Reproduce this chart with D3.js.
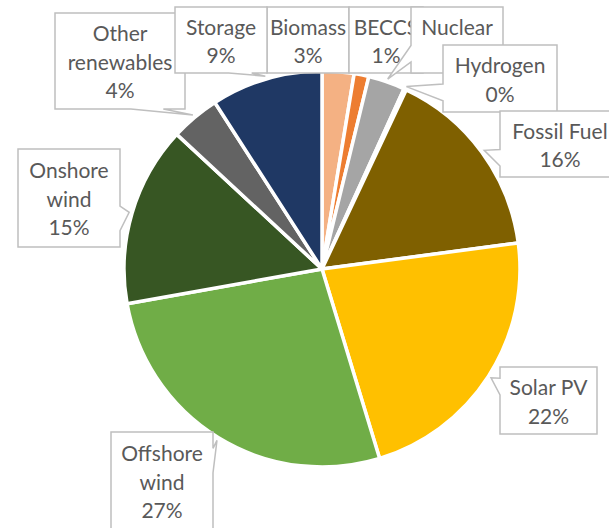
<!DOCTYPE html>
<html><head><meta charset="utf-8">
<script src="https://cdn.jsdelivr.net/npm/d3@7"></script>
<style>html,body{margin:0;padding:0;background:#fff;} svg{display:block}</style>
</head><body>
<svg id="chart" width="609" height="528"></svg>
<script>
// ---- data ----
const categories = ["Biomass","BECCS","Nuclear","Hydrogen","Fossil Fuel","Solar PV","Offshore wind","Onshore wind","Other renewables","Storage"];
const shares = [2.6, 1.2, 3.0, 0.2, 15.9, 22.4, 26.9, 14.7, 4.0, 9.1];
const sliceColors = ["#F4B183","#ED7D31","#A5A5A5","#BDD7EE","#7F6000","#FFC000","#70AD47","#375623","#636363","#1F3864"];
const noWrap = ["Fossil Fuel","Solar PV"];

// ---- label box layout (manually placed in the original) ----
const labelBoxes = {
  "Biomass":          {x:267, y:7,   w:82,  h:66},
  "BECCS":            {x:349, y:7,   w:74,  h:66},
  "Nuclear":          {x:411, y:7,   w:92,  h:66},
  "Hydrogen":         {x:443, y:45,  w:114, h:67},
  "Fossil Fuel":      {x:500, y:111, w:120, h:66},
  "Solar PV":         {x:500, y:367, w:97,  h:67},
  "Offshore wind":    {x:111, y:432, w:102, h:98},
  "Onshore wind":     {x:18,  y:149, w:102, h:98},
  "Other renewables": {x:55,  y:13,  w:130, h:96},
  "Storage":          {x:175, y:7,   w:92,  h:66}
};

const W = 609, H = 528;
const cx = 322, cy = 269, R = 198;
const lineH = 28.5;

const svg = d3.select("#chart");
svg.append("rect").attr("width", W).attr("height", H).attr("fill", "#fff");

const data = categories.map((c, i) => ({name: c, value: shares[i], color: sliceColors[i]}));
const pie = d3.pie().sort(null).value(d => d.value).startAngle(0).endAngle(2 * Math.PI);
const arcs = pie(data);
const arc = d3.arc().innerRadius(0).outerRadius(R);

const g = svg.append("g").attr("transform", `translate(${cx},${cy})`);
g.selectAll("path").data(arcs).join("path")
  .attr("d", arc)
  .attr("fill", d => d.data.color)
  .attr("stroke", "#fff")
  .attr("stroke-width", 3.5)
  .attr("stroke-linejoin", "round");

// Excel-like wedgeRectCallout path
function calloutPath(l, t, w, h, tx, ty) {
  const r = l + w, b = t + h;
  if (tx >= l && tx <= r && ty >= t && ty <= b) {
    return `M${l},${t}H${r}V${b}H${l}Z`;
  }
  const hc = l + w / 2, vc = t + h / 2;
  const dxPos = tx - hc, dyPos = ty - vc;
  const dq = dxPos * h / w;
  const dz = Math.abs(dyPos) - Math.abs(dq);
  const x1 = l + w * (dxPos > 0 ? 7 : 2) / 12;
  const x2 = l + w * (dxPos > 0 ? 10 : 5) / 12;
  const y1 = t + h * (dyPos > 0 ? 7 : 2) / 12;
  const y2 = t + h * (dyPos > 0 ? 10 : 5) / 12;
  const xl = dz > 0 ? l : (dxPos > 0 ? l : tx);
  const yl = dz > 0 ? y1 : (dxPos > 0 ? y1 : ty);
  const xt = dz > 0 ? (dyPos > 0 ? x1 : tx) : x1;
  const yt = dz > 0 ? (dyPos > 0 ? t : ty) : t;
  const xr = dz > 0 ? r : (dxPos > 0 ? tx : r);
  const yr = dz > 0 ? y1 : (dxPos > 0 ? ty : y1);
  const xb = dz > 0 ? (dyPos > 0 ? tx : x1) : x1;
  const yb = dz > 0 ? (dyPos > 0 ? ty : b) : b;
  return `M${l},${t}L${x1},${t}L${xt},${yt}L${x2},${t}L${r},${t}` +
         `L${r},${y1}L${xr},${yr}L${r},${y2}L${r},${b}` +
         `L${x2},${b}L${xb},${yb}L${x1},${b}L${l},${b}` +
         `L${l},${y2}L${xl},${yl}L${l},${y1}Z`;
}

const labels = svg.append("g");
arcs.forEach(a => {
  const name = a.data.name;
  const box = labelBoxes[name];
  const mid = (a.startAngle + a.endAngle) / 2;
  const rt = R + 3;
  const tx = cx + rt * Math.sin(mid), ty = cy - rt * Math.cos(mid);
  const lines = (noWrap.includes(name) ? [name] : name.split(" "))
    .concat([Math.round(a.data.value) + "%"]);
  const lg = labels.append("g");
  lg.append("path")
    .attr("d", calloutPath(box.x, box.y, box.w, box.h, tx, ty))
    .attr("fill", "#fff")
    .attr("stroke", "#BFBFBF")
    .attr("stroke-width", 1.5)
    .attr("stroke-linejoin", "miter");
  const top = box.y + (box.h - lines.length * lineH) / 2 + 23;
  lg.selectAll("text").data(lines).join("text")
    .attr("x", box.x + box.w / 2)
    .attr("y", (d, i) => top + i * lineH)
    .attr("text-anchor", "middle")
    .attr("font-family", "Lato, 'Open Sans', sans-serif")
    .attr("font-size", 21)
    .attr("fill", "#595959")
    .text(d => d);
});
</script>
</body></html>
